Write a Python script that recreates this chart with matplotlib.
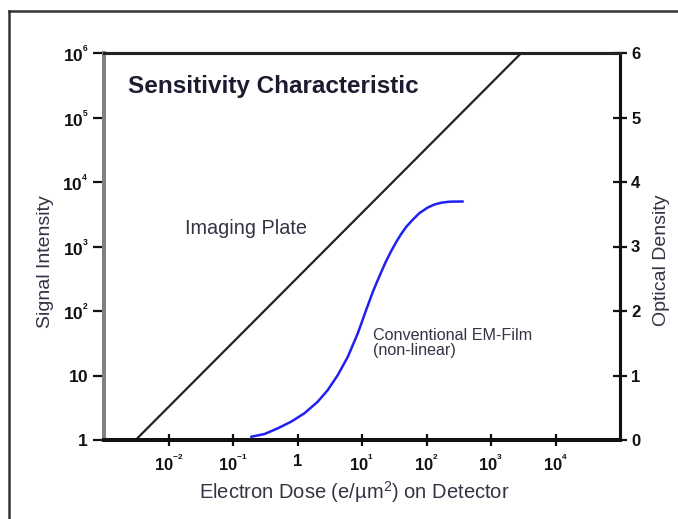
import matplotlib
matplotlib.use("Agg")
import matplotlib.pyplot as plt
from matplotlib.lines import Line2D
import matplotlib.ticker as mticker

plt.rcParams['font.family'] = ['Liberation Sans', 'DejaVu Sans']
plt.rcParams['mathtext.fontset'] = 'custom'
plt.rcParams['mathtext.bf'] = 'Liberation Sans:bold'
plt.rcParams['mathtext.rm'] = 'Liberation Sans'
plt.rcParams['mathtext.it'] = 'Liberation Sans:italic'

# Data
plate_dose = [10**-2.51, 10**3.47]
plate_signal = [1, 1e6]

film_dose = [0.191, 0.308, 0.495, 0.798, 1.28, 2.06, 2.95, 4.22, 6.03, 8.61,
             11.6, 14.7, 16.8, 19.9, 23.1, 28.4, 34.3, 40.5, 49.0, 60.6,
             77.9, 105, 133, 169, 227, 366]
film_od = [0.05, 0.093, 0.181, 0.284, 0.414, 0.594, 0.775, 1.008, 1.29, 1.654,
           2.016, 2.295, 2.434, 2.605, 2.752, 2.930, 3.078, 3.194, 3.310, 3.411,
           3.519, 3.605, 3.651, 3.679, 3.695, 3.698]

x_ticks = [1e-2, 1e-1, 1, 10, 100, 1e3, 1e4]
x_ticklabels = [r'$\mathbf{10^{{}^{-2}}}$', r'$\mathbf{10^{{}^{-1}}}$', r'$\mathbf{1}$',
                r'$\mathbf{10^{{}^{1}}}$', r'$\mathbf{10^{{}^{2}}}$',
                r'$\mathbf{10^{{}^{3}}}$', r'$\mathbf{10^{{}^{4}}}$']
y_ticks = [1, 10, 1e2, 1e3, 1e4, 1e5, 1e6]
y_ticklabels = [r'$\mathbf{1}$', r'$\mathbf{10}$', r'$\mathbf{10^{{}^{2}}}$',
                r'$\mathbf{10^{{}^{3}}}$', r'$\mathbf{10^{{}^{4}}}$',
                r'$\mathbf{10^{{}^{5}}}$', r'$\mathbf{10^{{}^{6}}}$']
od_ticks = [0, 1, 2, 3, 4, 5, 6]

W, H = 678, 519
fig = plt.figure(figsize=(W/100, H/100), dpi=100)
ax = fig.add_axes([104/W, 1-440/H, (620-104)/W, (440-53)/H])
ax.set_xscale('log')
ax.set_yscale('log')
ax.set_xlim(1e-3, 1e5)
ax.set_ylim(1, 1e6)

ax.plot(plate_dose, plate_signal, color='#222222', lw=1.6, zorder=3)

ax2 = ax.twinx()
ax2.set_ylim(0, 6)
ax2.plot(film_dose, film_od, color='#2020f0', lw=1.8, solid_capstyle='round',
         solid_joinstyle='round')

ax.set_xticks(x_ticks)
ax.set_xticklabels(x_ticklabels, fontsize=12)
ax.set_yticks(y_ticks)
ax.set_yticklabels(y_ticklabels, fontsize=12.5)
ax.xaxis.set_minor_locator(mticker.NullLocator())
ax.yaxis.set_minor_locator(mticker.NullLocator())
ax.tick_params(axis='x', direction='inout', length=9, width=1.6, pad=5, colors='#111111')
ax.tick_params(axis='y', direction='out', length=8, width=1.6, pad=3, colors='#111111')
ax2.set_yticks(od_ticks)
ax2.set_yticklabels([str(v) for v in od_ticks], fontsize=12, fontweight='bold')
ax2.tick_params(axis='y', direction='inout', length=10, width=1.6, pad=3, colors='#111111')

for a in (ax, ax2):
    a.spines['left'].set_color('#808080')
    a.spines['left'].set_linewidth(2.8)
    a.spines['bottom'].set_color('#111111')
    a.spines['bottom'].set_linewidth(2.8)
    a.spines['top'].set_color('#222222')
    a.spines['top'].set_linewidth(2.2)
    a.spines['right'].set_color('#111111')
    a.spines['right'].set_linewidth(2.2)

lab_color = '#333344'
fig.text(45/W, 1-262/H, 'Signal Intensity', rotation=90, fontsize=14,
         color=lab_color, ha='center', va='center')
fig.text(662/W, 1-260/H, 'Optical Density', rotation=90, fontsize=14,
         color=lab_color, ha='center', va='center')
fig.text(354/W, 1-492/H, r'Electron Dose (e/µm$^{2}$) on Detector', fontsize=14.5,
         color=lab_color, ha='center', va='center')

fig.text(128/W, 1-86/H, 'Sensitivity Characteristic', fontsize=17.5,
         fontweight='bold', color='#1c1c30', va='center', ha='left')
fig.text(185/W, 1-228/H, 'Imaging Plate', fontsize=14.3,
         color=lab_color, va='center', ha='left')
fig.text(373/W, 1-343/H, 'Conventional EM-Film\n(non-linear)', fontsize=11.6,
         color=lab_color, va='center', ha='left', linespacing=1.05)

# outer frame lines
fig.add_artist(Line2D([9/W, 9/W], [0, 1-11/H], color='#333333', lw=1.8))
fig.add_artist(Line2D([9/W, 1], [1-11/H, 1-11/H], color='#333333', lw=1.8))

fig.savefig('out.png', dpi=100)
